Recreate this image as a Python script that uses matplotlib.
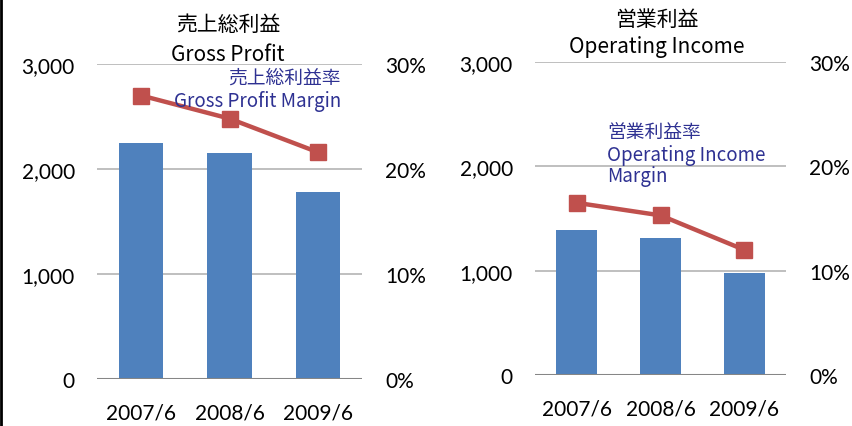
import matplotlib
matplotlib.use('Agg')
import matplotlib.pyplot as plt
from matplotlib.lines import Line2D

# data
years = ['2007/6', '2008/6', '2009/6']
gross_profit = [2250, 2150, 1780]
gross_margin = [27.0, 24.8, 21.6]
op_income = [1385, 1315, 980]
op_margin = [16.5, 15.3, 12.0]

left_ticks = [0, 1000, 2000, 3000]
left_labels = ['0', '1,000', '2,000', '3,000']
pct_ticks = [0, 10, 20, 30]
pct_labels = ['0%', '10%', '20%', '30%']

BAR = '#4F81BD'
LINE = '#C0504D'
NAVY = '#2E3192'
num_font = ['Lato', 'DejaVu Sans']
jp_font = ['Noto Sans CJK JP', 'DejaVu Sans']

W, H = 852, 427
fig = plt.figure(figsize=(W / 100, H / 100), dpi=100)

def px(x, y):
    return x / W, 1 - y / H

def panel(rect, bars, line, width):
    ax = fig.add_axes(rect)
    x = range(len(years))
    ax.bar(x, bars, width=width, color=BAR, zorder=3)
    ax.set_xlim(-0.5, 2.5)
    ax.set_ylim(0, 3000)
    ax.set_yticks(left_ticks)
    ax.set_yticklabels(left_labels, fontfamily=num_font, fontsize=15)
    ax.set_xticks(list(x))
    ax.set_xticklabels(years, fontfamily=num_font, fontsize=15)
    ax.tick_params(axis='y', length=0, pad=16)
    ax.tick_params(axis='x', length=0, pad=17)
    for s in ax.spines.values():
        s.set_visible(False)
    for t in left_ticks[1:]:
        ax.axhline(t, color='#BFBFBF', lw=1.4, zorder=1)
    ax.axhline(0, color='#868686', lw=2.2, zorder=4)

    ax2 = ax.twinx()
    ax2.plot(list(x), line, color=LINE, lw=3.2, marker='s', markersize=12,
             zorder=5)
    ax2.set_ylim(0, 30)
    ax2.set_yticks(pct_ticks)
    ax2.set_yticklabels(pct_labels, fontfamily=num_font, fontsize=15)
    ax2.tick_params(axis='y', length=0, pad=16.5)
    for s in ax2.spines.values():
        s.set_visible(False)
    return ax, ax2

# left panel: gross profit
l0, b0 = px(97, 380)
l1, b1 = px(362, 65)
panel([l0, b0, l1 - l0, b1 - b0], gross_profit, gross_margin, 0.5)

# right panel: operating income
r0, c0 = px(535, 376)
r1, c1 = px(786, 63)
panel([r0, c0, r1 - r0, c1 - c0], op_income, op_margin, 0.49)

# titles
fig.text(*px(228, 25), '売上総利益', ha='center', va='center',
         fontsize=15, family=jp_font)
fig.text(*px(228, 55), 'Gross Profit', ha='center', va='center',
         fontsize=15, family=jp_font)
fig.text(*px(657, 20), '営業利益', ha='center', va='center',
         fontsize=15, family=jp_font)
fig.text(*px(657, 47), 'Operating Income', ha='center', va='center',
         fontsize=15, family=jp_font)

# series labels
fig.text(*px(341, 78), '売上総利益率', ha='right', va='center',
         fontsize=13.5, color=NAVY, family=jp_font)
fig.text(*px(341, 101), 'Gross Profit Margin', ha='right', va='center',
         fontsize=13.5, color=NAVY, family=jp_font)
fig.text(*px(607, 132), '営業利益率', ha='left', va='center',
         fontsize=13.5, color=NAVY, family=jp_font)
fig.text(*px(607, 156), 'Operating Income', ha='left', va='center',
         fontsize=13.5, color=NAVY, family=jp_font)
fig.text(*px(607, 177), 'Margin', ha='left', va='center',
         fontsize=13.5, color=NAVY, family=jp_font)

# frame line at left edge
fig.add_artist(Line2D([0.0015, 0.0015], [0, 1], color='black', lw=2,
                      transform=fig.transFigure))

fig.savefig('out.png', dpi=100)
